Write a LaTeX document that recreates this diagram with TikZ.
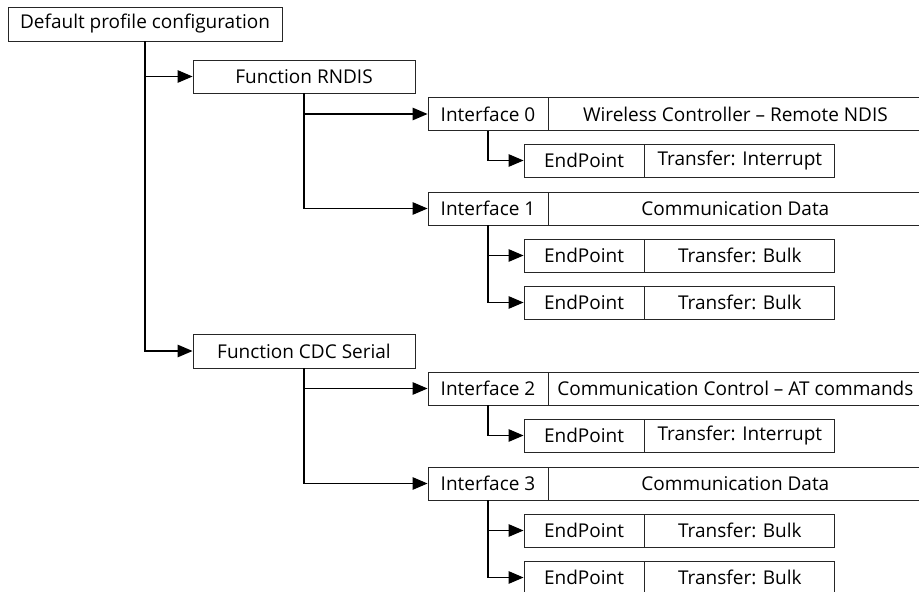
\documentclass[tikz,border=0pt]{standalone}
\usepackage{fontspec}
\setmainfont{Open Sans}
\usetikzlibrary{arrows.meta}
\begin{document}
\begin{tikzpicture}[x=1pt,y=-1pt,
  box/.style={draw=black!85, line width=0.9pt, rectangle, inner sep=0pt, minimum height=33pt, font=\fontsize{19}{21}\selectfont},
  conn/.style={draw=black, line width=1.3pt, -{Triangle[length=15pt,width=12.5pt]}}]
\useasboundingbox (0,0) rectangle (919,592);
\begin{scope}
\clip (0,0) rectangle (919,592);
\node[box, minimum width=274pt, minimum height=34pt] (def) at (145,24) {Default profile configuration};
\node[box, minimum width=222pt] (rndis) at (304,76.5) {Function RNDIS};
\node[box, minimum width=222pt, minimum height=34pt] (cdc) at (304,351) {Function CDC Serial};
% interfaces
\node[box, minimum width=120pt] (if0) at (488,114) {Interface 0};
\node[box, minimum width=373pt, anchor=west] (if0d) at (if0.east) {Wireless Controller – Remote NDIS};
\node[box, minimum width=120pt] (if1) at (488,208.5) {Interface 1};
\node[box, minimum width=373pt, anchor=west] (if1d) at (if1.east) {Communication Data};
\node[box, minimum width=120pt] (if2) at (488,388.5) {Interface 2};
\node[box, minimum width=373pt, anchor=west] (if2d) at (if2.east) {Communication Control – AT commands};
\node[box, minimum width=120pt] (if3) at (488,483.5) {Interface 3};
\node[box, minimum width=373pt, anchor=west] (if3d) at (if3.east) {Communication Data};
% endpoints
\node[box, minimum width=120pt] (ep0) at (584,160.5) {EndPoint};
\node[box, minimum width=190pt, anchor=west] (ep0d) at (ep0.east) {Transfer: Interrupt};
\node[box, minimum width=120pt] (ep1a) at (584,255.5) {EndPoint};
\node[box, minimum width=190pt, anchor=west] (ep1ad) at (ep1a.east) {Transfer: Bulk};
\node[box, minimum width=120pt] (ep1b) at (584,302.5) {EndPoint};
\node[box, minimum width=190pt, anchor=west] (ep1bd) at (ep1b.east) {Transfer: Bulk};
\node[box, minimum width=120pt] (ep2) at (584,435.5) {EndPoint};
\node[box, minimum width=190pt, anchor=west] (ep2d) at (ep2.east) {Transfer: Interrupt};
\node[box, minimum width=120pt] (ep3a) at (584,530.5) {EndPoint};
\node[box, minimum width=190pt, anchor=west] (ep3ad) at (ep3a.east) {Transfer: Bulk};
\node[box, minimum width=120pt] (ep3b) at (584,577.5) {EndPoint};
\node[box, minimum width=190pt, anchor=west] (ep3bd) at (ep3b.east) {Transfer: Bulk};
% connectors
\draw[conn] (def.south) |- (rndis.west);
\draw[conn] (def.south) |- (cdc.west);
\draw[conn] (rndis.south) |- (if0.west);
\draw[conn] (rndis.south) |- (if1.west);
\draw[conn] (cdc.south) |- (if2.west);
\draw[conn] (cdc.south) |- (if3.west);
\draw[conn] (if0.south) |- (ep0.west);
\draw[conn] (if1.south) |- (ep1a.west);
\draw[conn] (if1.south) |- (ep1b.west);
\draw[conn] (if2.south) |- (ep2.west);
\draw[conn] (if3.south) |- (ep3a.west);
\draw[conn] (if3.south) |- (ep3b.west);
\end{scope}
\end{tikzpicture}
\end{document}
